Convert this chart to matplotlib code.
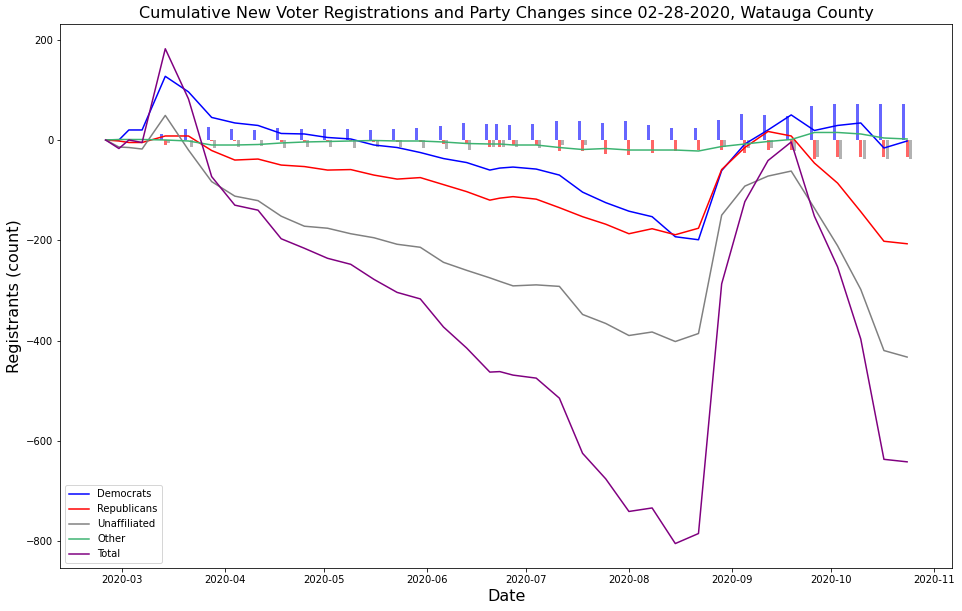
import matplotlib
matplotlib.use("Agg")
import matplotlib.pyplot as plt
import matplotlib.dates as mdates
import numpy as np
import datetime as dt

dates = ["2020-02-25", "2020-02-29", "2020-03-03", "2020-03-07", "2020-03-14", "2020-03-21",
         "2020-03-28", "2020-04-04", "2020-04-11", "2020-04-18", "2020-04-25", "2020-05-02",
         "2020-05-09", "2020-05-16", "2020-05-23", "2020-05-30", "2020-06-06", "2020-06-13",
         "2020-06-20", "2020-06-23", "2020-06-27", "2020-07-04", "2020-07-11", "2020-07-18",
         "2020-07-25", "2020-08-01", "2020-08-08", "2020-08-15", "2020-08-22", "2020-08-29",
         "2020-09-05", "2020-09-12", "2020-09-19", "2020-09-26", "2020-10-03", "2020-10-10",
         "2020-10-17", "2020-10-24"]

democrats = [0, 0, 20, 20, 127, 96, 45, 34, 29, 13, 12, 5, 2, -10, -15, -25, -37, -45,
             -60, -56, -54, -58, -70, -104, -125, -142, -153, -193, -199, -61, -8, 20, 50, 19,
             29, 34, -16, -2]
republicans = [0, -2, -5, -5, 8, 8, -21, -40, -38, -50, -53, -60, -59, -70, -78, -75, -89, -103,
               -120, -116, -113, -118, -135, -153, -168, -187, -177, -189, -176, -59, -15, 17, 8, -46,
               -86, -143, -202, -207]
unaffiliated = [0, -14, -15, -18, 49, -20, -83, -112, -121, -152, -172, -176, -187, -195, -208, -214,
                -244, -260, -275, -282, -291, -289, -292, -348, -366, -390, -383, -402, -386, -150,
                -92, -72, -62, -136, -211, -298, -420, -433]
other = [0, 1, 1, 1, 0, -2, -10, -10, -9, -6, -4, -3, -2, -1, -2, -2, -4, -7, -8, -8, -10, -10,
         -15, -19, -17, -20, -20, -20, -22, -13, -8, -3, 1, 15, 15, 12, 4, 2]
total = [0, -17, 0, -5, 182, 82, -73, -130, -140, -197, -216, -236, -248, -278, -304, -317, -373,
         -415, -463, -462, -469, -475, -515, -625, -676, -741, -734, -805, -785, -287, -123, -41, -4,
         -152, -253, -397, -637, -642]

# weekly party-change bars (Dem gains, Rep and Unaffiliated losses)
bar_dem = [0, 0, 0, 0, 11, 21, 26, 22, 19, 23, 22, 21, 21, 20, 22, 23, 28, 34, 32, 32, 30, 32,
           38, 38, 34, 38, 30, 24, 24, 40, 52, 50, 48, 68, 72, 72, 72, 72]
bar_rep = [0, 0, 0, 0, -10, -1, -2, -2, -1, -4, -5, -4, -3, -4, -5, -5, -7, -8, -14, -14, -10, -10,
           -22, -22, -28, -30, -25, -22, -20, -20, -25, -20, -20, -38, -34, -34, -34, -34]
bar_una = [0, 0, 0, 0, -6, -14, -16, -14, -12, -16, -14, -14, -16, -14, -14, -16, -18, -20, -14, -14,
           -14, -16, -10, -10, -1, -1, 0, 0, -1, -13, -15, -16, -22, -34, -38, -38, -38, -38]

series_labels = ["Democrats", "Republicans", "Unaffiliated", "Other", "Total"]
series_colors = ["blue", "red", "gray", "mediumseagreen", "purple"]

x = mdates.date2num([dt.datetime.strptime(d, "%Y-%m-%d") for d in dates])

fig = plt.figure(figsize=(962 / 72, 611 / 72), dpi=72)
ax = fig.add_axes([0.0627, 0.0699, 0.9274, 0.8908])

for vals, lab, col in zip([democrats, republicans, unaffiliated, other, total], series_labels, series_colors):
    ax.plot(x, vals, color=col, label=lab, linewidth=1.5)

w = 0.9
ax.bar(x - 1, bar_dem, width=w, color="blue", alpha=0.6)
ax.bar(x, bar_rep, width=w, color="red", alpha=0.6)
ax.bar(x + 1, bar_una, width=w, color="gray", alpha=0.6)

ax.xaxis.set_major_locator(mdates.MonthLocator())
ax.xaxis.set_major_formatter(mdates.DateFormatter("%Y-%m"))
ax.tick_params(labelsize=10)
ax.set_title("Cumulative New Voter Registrations and Party Changes since 02-28-2020, Watauga County",
             fontsize=16)
ax.set_xlabel("Date", fontsize=16)
ax.set_ylabel("Registrants (count)", fontsize=16)
ax.legend(loc="lower left", fontsize=10)

fig.savefig("out.png", dpi=72)
